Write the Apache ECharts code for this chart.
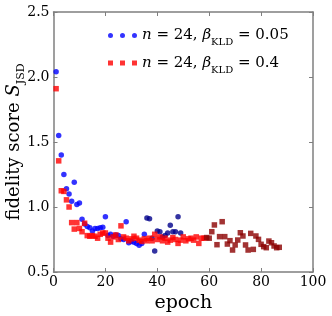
<!DOCTYPE html>
<html><head><meta charset="utf-8">
<script src="https://cdn.jsdelivr.net/npm/echarts@6/dist/echarts.min.js"></script>
<style>html,body{margin:0;padding:0;background:#fff}#c{width:332px;height:316px}</style>
</head><body><div id="c"></div>
<script>
// x tick labels / y tick labels
const xTicks = [0, 20, 40, 60, 80, 100];
const yTicks = [0.5, 1.0, 1.5, 2.0, 2.5];
// beta_KLD = 0.05, epochs 1..49
const blueValues = [2.04,1.55,1.40,1.25,1.14,1.10,1.045,1.19,1.02,1.03,
  0.905,0.87,0.85,0.84,0.815,0.835,0.835,0.84,0.845,0.925,
  0.78,0.79,0.775,0.785,0.78,0.755,0.75,0.887,0.725,0.735,
  0.728,0.72,0.705,0.72,0.79,0.915,0.91,0.76,0.662,0.815,
  0.81,0.77,0.78,0.80,0.86,0.81,0.81,0.925,0.80];
// beta_KLD = 0.4, epochs 1..87
const redValues = [1.91,1.355,1.125,1.12,1.055,1.0,0.88,0.83,0.88,0.835,
  0.81,0.875,0.78,0.775,0.78,0.775,0.76,0.79,0.80,0.80,
  0.76,0.73,0.77,0.785,0.75,0.855,0.77,0.76,0.74,0.755,
  0.775,0.76,0.745,0.735,0.755,0.74,0.76,0.74,0.79,0.75,
  0.77,0.74,0.76,0.73,0.745,0.765,0.75,0.72,0.745,0.77,
  0.74,0.755,0.76,0.745,0.77,0.72,0.76,0.76,0.765,0.76,
  0.81,0.862,0.71,0.772,0.887,0.772,0.715,0.741,0.669,0.708,
  0.746,0.802,0.777,0.708,0.669,0.797,0.674,0.777,0.751,0.713,
  0.695,0.687,0.738,0.725,0.70,0.687,0.69];
const blueDarkFrom = 36;   // epoch where blue points turn dark
const redDarkFrom = 59;    // epoch where red points turn dark
const legendNames = ['n = 24, β_KLD = 0.05', 'n = 24, β_KLD = 0.4'];

function pts(vals, from, to) {
  const out = [];
  vals.forEach((v, i) => { const e = i + 1; if (e >= from && e < to) out.push([e, v]); });
  return out;
}
const chart = echarts.init(document.getElementById('c'), null, {renderer: 'canvas'});
const serif = 'DejaVu Serif';
const axisCol = '#7f7f7f';
const baseX = {
  type: 'value', min: 0, max: 100, interval: 20,
  axisLine: {show: true, onZero: false, lineStyle: {color: axisCol, width: 1.5}},
  axisTick: {show: true, inside: true, length: 4, lineStyle: {color: axisCol, width: 1}},
  splitLine: {show: false}
};
const baseY = {
  type: 'value', min: 0.5, max: 2.5, interval: 0.5,
  axisLine: {show: true, onZero: false, lineStyle: {color: axisCol, width: 1.5}},
  axisTick: {show: true, inside: true, length: 4, lineStyle: {color: axisCol, width: 1}},
  splitLine: {show: false}
};
const circ = 'path://M0,2.5a2.5,2.5 0 1,0 5,0a2.5,2.5 0 1,0 -5,0M12,2.5a2.5,2.5 0 1,0 5,0a2.5,2.5 0 1,0 -5,0M24,2.5a2.5,2.5 0 1,0 5,0a2.5,2.5 0 1,0 -5,0';
const sq = 'path://M0,0h5v5h-5zM12,0h5v5h-5zM24,0h5v5h-5z';
chart.setOption({
  animation: false,
  grid: {left: 53.5, right: 19, top: 12, bottom: 44, containLabel: false, outerBoundsMode: 'none'},
  xAxis: [
    Object.assign({}, baseX, {position: 'bottom',
      axisLabel: {show: true, color: '#000', fontFamily: serif, fontSize: 14, margin: 3,
        formatter: v => xTicks.includes(v) ? String(v) : ''},
      name: 'epoch', nameLocation: 'middle', nameGap: 21,
      nameTextStyle: {color: '#000', fontFamily: serif, fontSize: 19}}),
    Object.assign({}, baseX, {position: 'top', axisLabel: {show: false}})
  ],
  yAxis: [
    Object.assign({}, baseY, {position: 'left',
      axisLabel: {show: true, color: '#000', fontFamily: serif, fontSize: 14, margin: 4,
        formatter: v => yTicks.some(t => Math.abs(t - v) < 1e-9) ? v.toFixed(1) : ''},
      name: '{a|fidelity score }{i|S}{s|JSD}', nameLocation: 'middle', nameGap: 27,
      nameMoveOverlap: false,
      nameTextStyle: {color: '#000', fontFamily: serif, fontSize: 18,
        rich: {
          a: {fontFamily: serif, fontSize: 18, color: '#000', lineHeight: 24},
          i: {fontFamily: serif, fontStyle: 'italic', fontSize: 18, color: '#000', lineHeight: 24},
          s: {fontFamily: serif, fontSize: 11, color: '#000', lineHeight: 24, verticalAlign: 'bottom'}
        }}}),
    Object.assign({}, baseY, {position: 'right', axisLabel: {show: false}})
  ],
  legend: {
    data: [{name: legendNames[0], icon: circ}, {name: legendNames[1], icon: sq}],
    orient: 'vertical', left: 108, top: 28, padding: 0, itemGap: 8,
    itemWidth: 29, itemHeight: 5, itemTextGap: 16,
    formatter: n => n === legendNames[0]
      ? '{i|n}{t| = 24, }{i|β}{s|KLD}{t| = 0.05}'
      : '{i|n}{t| = 24, }{i|β}{s|KLD}{t| = 0.4}',
    textStyle: {fontFamily: serif, fontSize: 15, color: '#000',
      rich: {
        t: {fontFamily: serif, fontSize: 15, color: '#000', lineHeight: 20},
        i: {fontFamily: serif, fontStyle: 'italic', fontSize: 15, color: '#000', lineHeight: 20},
        s: {fontFamily: serif, fontSize: 10, color: '#000', lineHeight: 20, verticalAlign: 'bottom', padding: [0,0,-2,0]}
      }}
  },
  series: [
    {name: legendNames[0], type: 'scatter', symbol: 'circle', symbolSize: 5.5,
      itemStyle: {color: '#0000ff'}, data: pts(blueValues, 1, blueDarkFrom)},
    {name: 'blue_late', type: 'scatter', symbol: 'circle', symbolSize: 5.5,
      itemStyle: {color: '#00008b'}, data: pts(blueValues, blueDarkFrom, 1000)},
    {name: legendNames[1], type: 'scatter', symbol: 'rect', symbolSize: 5.5,
      itemStyle: {color: '#ff0000'}, data: pts(redValues, 1, redDarkFrom)},
    {name: 'red_late', type: 'scatter', symbol: 'rect', symbolSize: 5.5,
      itemStyle: {color: '#8b0000'}, data: pts(redValues, redDarkFrom, 1000)}
  ]
});
</script></body></html>
